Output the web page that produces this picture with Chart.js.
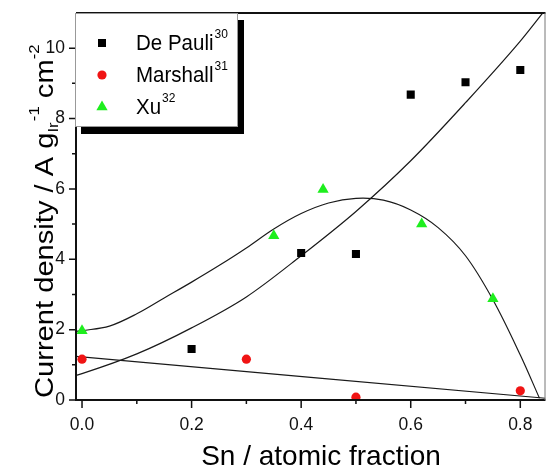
<!DOCTYPE html>
<html>
<head>
<meta charset="utf-8">
<script src="https://cdn.jsdelivr.net/npm/chart.js@4.4.1/dist/chart.umd.min.js"></script>
<style>
  html, body { margin: 0; padding: 0; background: #fff; }
  #wrap { width: 552px; height: 468px; }
</style>
</head>
<body>
<div id="wrap"><canvas id="chart" width="552" height="468"></canvas></div>
<script>
// measured points
const dePauliX = [0.2, 0.4, 0.5, 0.6, 0.7, 0.8];
const dePauliY = [1.45, 4.18, 4.15, 8.68, 9.03, 9.38];
const marshallX = [0.0, 0.3, 0.5, 0.8];
const marshallY = [1.16, 1.16, 0.08, 0.26];
const xuX = [0.0, 0.35, 0.44, 0.62, 0.75];
const xuY = [1.97, 4.67, 5.98, 5.0, 2.88];

// guide curves
const lineX = [-0.011, 0.846];
const lineY = [1.24, 0.05];
const bellX = [-0.011, 0.0, 0.05, 0.1, 0.15, 0.2, 0.25, 0.3, 0.35, 0.4, 0.45, 0.5, 0.55, 0.6, 0.65, 0.7, 0.75, 0.8, 0.835];
const bellY = [1.95, 1.97, 2.1, 2.45, 2.9, 3.35, 3.82, 4.32, 4.86, 5.3, 5.6, 5.73, 5.68, 5.4, 4.9, 4.1, 2.85, 1.28, 0.05];
const riseX = [-0.011, 0.0, 0.1, 0.2, 0.3, 0.4, 0.5, 0.6, 0.7, 0.8, 0.846];
const riseY = [0.7, 0.75, 1.31, 2.05, 2.93, 4.1, 5.36, 6.8, 8.45, 10.2, 11.1];

const xMajorTicks = [0, 0.2, 0.4, 0.6, 0.8];
const xMinorTicks = [0.1, 0.3, 0.5, 0.7];
const yMajorTicks = [0, 2, 4, 6, 8, 10];
const yMinorTicks = [1, 3, 5, 7, 9];

const legendNames = ['De Pauli', 'Marshall', 'Xu'];
const legendRefs = ['30', '31', '32'];

const FONT = "'Liberation Sans', Arial, sans-serif";

const pts = (xs, ys) => xs.map((x, i) => ({ x, y: ys[i] }));

const curve = (data, mode) => ({
  data,
  showLine: true,
  borderColor: '#1a1a1a',
  borderWidth: 1.2,
  pointRadius: 0,
  cubicInterpolationMode: mode,
  tension: 0.35,
  fill: false,
});

const frame = {
  id: 'frame',
  afterDraw(chart) {
    const { ctx, chartArea: a, scales: { x, y } } = chart;
    ctx.save();
    // axes + box
    ctx.strokeStyle = '#111';
    ctx.lineWidth = 2;
    ctx.beginPath();
    ctx.moveTo(a.left, a.top);
    ctx.lineTo(a.right, a.top);
    ctx.moveTo(a.left, a.top);
    ctx.lineTo(a.left, a.bottom);
    ctx.lineTo(a.right, a.bottom);
    ctx.stroke();
    ctx.strokeStyle = '#777';
    ctx.lineWidth = 1;
    ctx.beginPath();
    ctx.moveTo(a.right - 0.5, a.top);
    ctx.lineTo(a.right - 0.5, a.bottom);
    ctx.stroke();

    // tick marks
    ctx.strokeStyle = '#111';
    ctx.lineWidth = 1.5;
    ctx.beginPath();
    xMajorTicks.forEach(v => { const p = x.getPixelForValue(v); ctx.moveTo(p, a.bottom); ctx.lineTo(p, a.bottom + 8); });
    xMinorTicks.forEach(v => { const p = x.getPixelForValue(v); ctx.moveTo(p, a.bottom); ctx.lineTo(p, a.bottom + 4); });
    yMajorTicks.forEach(v => { const p = y.getPixelForValue(v); ctx.moveTo(a.left, p); ctx.lineTo(a.left - 7, p); });
    yMinorTicks.forEach(v => { const p = y.getPixelForValue(v); ctx.moveTo(a.left, p); ctx.lineTo(a.left - 4, p); });
    ctx.stroke();

    // legend box with shadow
    const lx = a.left - 1, ly = a.top, lw = 163, lh = 114;
    ctx.fillStyle = '#000';
    ctx.fillRect(lx + 6, ly + 7, lw, lh);
    ctx.fillStyle = '#fff';
    ctx.fillRect(lx, ly, lw, lh);
    ctx.strokeStyle = '#999';
    ctx.lineWidth = 1;
    ctx.strokeRect(lx + 0.5, ly + 0.5, lw - 1, lh - 1);

    const rows = [43, 75, 107];
    const sets = chart.data.datasets;
    ctx.textBaseline = 'alphabetic';
    ctx.textAlign = 'left';
    legendNames.forEach((name, i) => {
      const ds = sets[i];
      ctx.fillStyle = ds.backgroundColor;
      Chart.helpers.drawPoint(ctx, { pointStyle: ds.pointStyle, radius: ds.pointRadius, rotation: 0, borderWidth: 0 }, lx + 27, rows[i]);
      ctx.fillStyle = '#000';
      ctx.save();
      ctx.translate(lx + 61, rows[i] + 7);
      ctx.scale(1, 1.12);
      ctx.font = '20.5px ' + FONT;
      ctx.fillText(name, 0, 0);
      const w = ctx.measureText(name).width;
      ctx.font = '12px ' + FONT;
      ctx.fillText(legendRefs[i], w + 1, -11);
      ctx.restore();
    });

    // axis titles
    ctx.fillStyle = '#000';
    ctx.font = '28px ' + FONT;
    ctx.textAlign = 'center';
    ctx.fillText('Sn / atomic fraction', 321, 465);

    ctx.translate(53, 398);
    ctx.rotate(-Math.PI / 2);
    ctx.scale(1.12, 1);
    const parts = [
      ['Current density / A g', 26, 0],
      ['Ir', 15, 5],
      ['-1', 15, -14],
      [' cm', 26, 0],
      ['-2', 15, -14],
    ];
    let cx = 0;
    ctx.textAlign = 'left';
    parts.forEach(p => {
      ctx.font = p[1] + 'px ' + FONT;
      ctx.fillText(p[0], cx, p[2]);
      cx += ctx.measureText(p[0]).width + (p[0] === 'Ir' ? 1 : 0);
    });
    ctx.restore();
  },
};

new Chart(document.getElementById('chart'), {
  type: 'scatter',
  data: {
    datasets: [
      { label: 'De Pauli', data: pts(dePauliX, dePauliY), pointStyle: 'rect', pointRadius: 5.7, backgroundColor: '#000', borderWidth: 0 },
      { label: 'Marshall', data: pts(marshallX, marshallY), pointStyle: 'circle', pointRadius: 4.6, backgroundColor: '#f01414', borderWidth: 0 },
      { label: 'Xu', data: pts(xuX, xuY), pointStyle: 'triangle', pointRadius: 6.5, backgroundColor: '#1eee1e', borderWidth: 0 },
      curve(pts(lineX, lineY), 'default'),
      curve(pts(bellX, bellY), 'default'),
      curve(pts(riseX, riseY), 'monotone'),
    ],
  },
  options: {
    responsive: false,
    animation: false,
    layout: { padding: { left: 0, right: 3, top: 13, bottom: 0 } },
    plugins: { legend: { display: false }, tooltip: { enabled: false } },
    scales: {
      x: {
        type: 'linear',
        min: -0.011,
        max: 0.846,
        afterBuildTicks: (s) => { s.ticks = [...xMajorTicks, ...xMinorTicks].sort((a, b) => a - b).map(v => ({ value: v })); },
        afterFit: (s) => { s.height = 68; s.paddingLeft = 0; s.paddingRight = 0; },
        grid: { display: false },
        border: { display: false },
        ticks: {
          autoSkip: false,
          maxRotation: 0,
          padding: 7,
          color: '#111',
          font: { family: FONT, size: 17.5 },
          callback: (v) => xMajorTicks.includes(v) ? v.toFixed(1) : '',
        },
      },
      y: {
        min: 0,
        max: 11,
        afterBuildTicks: (s) => { s.ticks = [...yMajorTicks, ...yMinorTicks].sort((a, b) => a - b).map(v => ({ value: v })); },
        afterFit: (s) => { s.width = 76; s.paddingTop = 0; s.paddingBottom = 0; },
        grid: { display: false },
        border: { display: false },
        ticks: {
          autoSkip: false,
          padding: 3,
          color: '#111',
          font: { family: FONT, size: 17.5 },
          callback: (v) => yMajorTicks.includes(v) ? String(v) : '',
        },
      },
    },
  },
  plugins: [frame],
});
</script>
</body>
</html>
